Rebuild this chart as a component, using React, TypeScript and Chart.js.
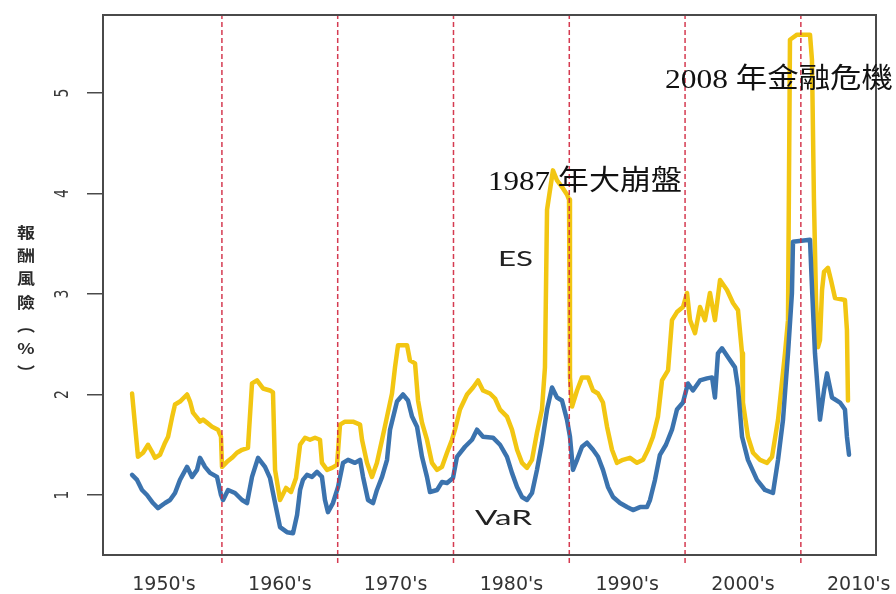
import React, { useEffect, useRef } from "react";
import { Chart, registerables } from "chart.js";

Chart.register(...registerables);

// ---- data ----
const decadeLabels = ["1950's", "1960's", "1970's", "1980's", "1990's", "2000's", "2010's"];
const decadeLabelYears = [1955, 1965, 1975, 1985, 1995, 2005, 2015];
const decadeBreakYears = [1960, 1970, 1980, 1990, 2000, 2010];
const yTickValues = [1, 2, 3, 4, 5];

const esYears = [
  1952.24, 1952.75, 1953.19, 1953.62, 1953.96, 1954.22, 1954.65, 1955.09, 1955.35, 1955.69,
  1955.95, 1956.38, 1956.99, 1957.25, 1957.5, 1957.85, 1958.11, 1958.37, 1958.71, 1959.15,
  1959.66, 1959.92, 1960.01, 1960.44, 1960.87, 1961.3, 1961.74, 1962.25, 1962.6, 1963.03,
  1963.55, 1964.15, 1964.41, 1964.59, 1965.02, 1965.54, 1965.97, 1966.4, 1966.75, 1967.18,
  1967.61, 1968.04, 1968.47, 1968.64, 1969.08, 1969.51, 1969.94, 1970.2, 1970.63, 1971.32,
  1971.93, 1972.1, 1972.53, 1972.96, 1973.39, 1973.83, 1974.26, 1974.69, 1974.95, 1975.21,
  1975.99, 1976.24, 1976.68, 1976.94, 1977.28, 1977.71, 1978.14, 1978.58, 1979.01, 1979.44,
  1979.87, 1980.13, 1980.56, 1981.17, 1981.69, 1982.12, 1982.55, 1983.15, 1983.59, 1984.02,
  1984.62, 1985.05, 1985.49, 1985.92, 1986.35, 1986.78, 1987.21, 1987.64, 1987.9, 1988.08,
  1988.59, 1988.94, 1989.46, 1989.8, 1989.98, 1990.06, 1990.24, 1990.67, 1991.1, 1991.62,
  1992.05, 1992.48, 1992.91, 1993.26, 1993.69, 1994.12, 1994.64, 1995.24, 1995.85, 1996.37,
  1996.8, 1997.23, 1997.66, 1998.01, 1998.53, 1998.87, 1999.3, 1999.82, 2000.17, 2000.43,
  2000.86, 2001.29, 2001.72, 2002.15, 2002.58, 2003.02, 2003.62, 2004.14, 2004.57, 2004.92,
  2005.0, 2005.43, 2005.87, 2006.47, 2007.08, 2007.51, 2008.03, 2008.63, 2008.89, 2009.06,
  2009.67, 2010.79, 2010.96, 2011.13, 2011.31, 2011.48, 2011.65, 2011.83, 2012.0, 2012.34,
  2012.6, 2012.95, 2013.81, 2013.98, 2014.07,
];
const esValues = [
  2.01, 1.38, 1.42, 1.5, 1.43, 1.37, 1.4, 1.52, 1.58, 1.77,
  1.9, 1.93, 2.0, 1.93, 1.82, 1.77, 1.73, 1.75, 1.72, 1.68,
  1.65, 1.58, 1.28, 1.33, 1.37, 1.42, 1.45, 1.47, 2.11, 2.14,
  2.06, 2.04, 2.02, 1.25, 0.95, 1.07, 1.03, 1.17, 1.5, 1.57,
  1.55, 1.57, 1.55, 1.32, 1.25, 1.27, 1.3, 1.7, 1.73, 1.73,
  1.7, 1.55, 1.32, 1.18, 1.32, 1.55, 1.78, 2.01, 2.27, 2.49,
  2.49, 2.34, 2.31, 1.94, 1.72, 1.55, 1.32, 1.25, 1.28, 1.42,
  1.55, 1.65, 1.85, 2.0, 2.07, 2.14, 2.04, 2.01, 1.96, 1.85,
  1.78, 1.65, 1.45, 1.32, 1.27, 1.35, 1.62, 1.85, 2.27, 3.84,
  4.23, 4.13, 4.05, 3.99, 3.94, 2.17, 1.88, 2.04, 2.17, 2.17,
  2.04, 2.01, 1.92, 1.68, 1.45, 1.32, 1.35, 1.37, 1.32, 1.35,
  1.45, 1.58, 1.78, 2.14, 2.24, 2.74, 2.82, 2.87, 3.01, 2.74,
  2.61, 2.87, 2.74, 3.01, 2.74, 3.14, 3.04, 2.91, 2.84, 2.41,
  1.92, 1.58, 1.42, 1.35, 1.32, 1.38, 1.75, 2.41, 2.74, 5.53,
  5.58, 5.58, 5.33, 3.94, 2.94, 2.47, 2.54, 3.04, 3.22, 3.26,
  3.14, 2.96, 2.94, 2.64, 1.94,
];

const varYears = [
  1952.24, 1952.67, 1953.1, 1953.53, 1954.05, 1954.48, 1955.09, 1955.52, 1955.95, 1956.38,
  1956.99, 1957.42, 1957.85, 1958.11, 1958.54, 1958.97, 1959.58, 1959.92, 1960.1, 1960.53,
  1961.13, 1961.74, 1962.17, 1962.6, 1963.12, 1963.72, 1964.15, 1964.59, 1965.02, 1965.62,
  1966.14, 1966.49, 1966.75, 1967.0, 1967.35, 1967.78, 1968.21, 1968.64, 1968.9, 1969.16,
  1969.59, 1970.03, 1970.46, 1970.89, 1971.49, 1971.93, 1972.19, 1972.62, 1973.05, 1973.39,
  1973.83, 1974.26, 1974.52, 1975.12, 1975.64, 1976.07, 1976.42, 1976.85, 1977.28, 1977.71,
  1977.97, 1978.58, 1979.01, 1979.44, 1979.96, 1980.3, 1980.99, 1981.6, 1982.03, 1982.55,
  1983.41, 1984.02, 1984.62, 1985.05, 1985.49, 1985.92, 1986.35, 1986.78, 1987.21, 1987.64,
  1988.08, 1988.51, 1988.94, 1989.37, 1989.8, 1990.06, 1990.32, 1990.67, 1991.1, 1991.53,
  1992.05, 1992.48, 1992.91, 1993.34, 1993.78, 1994.38, 1994.99, 1995.5, 1996.11, 1996.71,
  1996.97, 1997.4, 1997.83, 1998.35, 1998.87, 1999.3, 1999.82, 2000.25, 2000.68, 2001.29,
  2001.89, 2002.33, 2002.58, 2002.84, 2003.19, 2003.71, 2004.31, 2004.57, 2004.92, 2005.43,
  2006.21, 2006.9, 2007.59, 2008.03, 2008.46, 2008.89, 2009.23, 2009.32, 2010.79, 2010.96,
  2011.22, 2011.65, 2012.0, 2012.26, 2012.69, 2013.38, 2013.81, 2013.98, 2014.16,
];
const varValues = [
  1.2, 1.15, 1.05, 1.0, 0.92, 0.87, 0.92, 0.95, 1.02, 1.15,
  1.28, 1.18, 1.25, 1.37, 1.28, 1.22, 1.18, 1.0, 0.95, 1.05,
  1.02, 0.95, 0.92, 1.18, 1.37, 1.28, 1.17, 0.92, 0.68, 0.63,
  0.62, 0.8, 1.05, 1.15, 1.2, 1.18, 1.23, 1.18, 0.95, 0.83,
  0.92, 1.08, 1.32, 1.35, 1.32, 1.35, 1.18, 0.95, 0.92, 1.05,
  1.18, 1.35, 1.65, 1.93, 2.0, 1.94, 1.78, 1.68, 1.38, 1.18,
  1.03, 1.05, 1.13, 1.12, 1.17, 1.38, 1.48, 1.55, 1.65, 1.58,
  1.57, 1.5, 1.38, 1.22, 1.08, 0.98, 0.95, 1.02, 1.25, 1.52,
  1.85, 2.07, 1.97, 1.94, 1.75, 1.58, 1.25, 1.35, 1.48, 1.52,
  1.45, 1.38, 1.25, 1.08, 0.98, 0.92, 0.88, 0.85, 0.88, 0.88,
  0.95, 1.15, 1.4, 1.5, 1.65, 1.85, 1.92, 2.11, 2.04, 2.14,
  2.16, 2.17, 1.97, 2.41, 2.46, 2.37, 2.27, 2.07, 1.58, 1.35,
  1.15, 1.05, 1.02, 1.35, 1.75, 2.41, 3.01, 3.52, 3.54, 3.07,
  2.41, 1.75, 2.04, 2.21, 1.97, 1.92, 1.85, 1.58, 1.4,
];

// axis ranges
const X_MIN = 1949.73;
const X_MAX = 2016.49;
const Y_MIN = 0.403;
const Y_MAX = 5.776;

const yTitleChars = ["報", "酬", "風", "險", "︵", "%", "︶"];
const annotationCrash1987 = "1987 年大崩盤";
const annotationCrisis2008 = "2008 年金融危機";
const labelES = "ES";
const labelVaR = "VaR";

const ES_COLOR = "#F2C612";
const VAR_COLOR = "#3B73AE";
const BREAK_COLOR = "rgba(208, 38, 62, 0.9)";
const AXIS_COLOR = "#4a4a4a";

function fitText(
  ctx: CanvasRenderingContext2D,
  text: string,
  x: number,
  baseline: number,
  width: number,
  font: string,
  color: string
) {
  ctx.save();
  ctx.font = font;
  const w = ctx.measureText(text).width;
  ctx.translate(x, baseline);
  ctx.scale(width / w, 1);
  ctx.fillStyle = color;
  ctx.textAlign = "left";
  ctx.textBaseline = "alphabetic";
  ctx.fillText(text, 0, 0);
  ctx.restore();
}

const overlayPlugin = {
  id: "overlay",
  afterDatasetsDraw(chart: any) {
    const { ctx, chartArea: ca } = chart;
    ctx.save();
    ctx.strokeStyle = AXIS_COLOR;
    ctx.lineWidth = 2;
    ctx.strokeRect(ca.left, ca.top, ca.right - ca.left, ca.bottom - ca.top);
    ctx.restore();
  },
  afterDraw(chart: any) {
    const { ctx } = chart;
    const yScale = chart.scales.y;

    // rotated y tick labels
    ctx.save();
    ctx.fillStyle = "#3a3a3a";
    ctx.font = '14px "DejaVu Sans"';
    ctx.textAlign = "center";
    ctx.textBaseline = "middle";
    for (const t of yScale.ticks) {
      const py = yScale.getPixelForValue(t.value);
      ctx.save();
      ctx.translate(63, py);
      ctx.scale(1.4, 1);
      ctx.rotate(-Math.PI / 2);
      ctx.fillText(String(t.value), 0, 0);
      ctx.restore();
    }
    ctx.restore();

    // stacked vertical y-axis title
    ctx.save();
    ctx.fillStyle = "#2a2a2a";
    ctx.font = 'bold 15px "Noto Sans CJK TC"';
    ctx.textAlign = "center";
    ctx.textBaseline = "middle";
    yTitleChars.forEach((ch, i) => {
      ctx.save();
      ctx.translate(26, 232 + i * 23.3);
      ctx.scale(1.2, 1);
      ctx.fillText(ch, 0, 0);
      ctx.restore();
    });
    ctx.restore();

    // annotations
    const serif = '28px "Liberation Serif", "Noto Sans CJK TC"';
    fitText(ctx, annotationCrisis2008, 665, 88, 228, serif, "#111");
    fitText(ctx, annotationCrash1987, 488, 190, 194, serif, "#111");
    const sans = '21px "Lato", "Open Sans"';
    fitText(ctx, labelES, 498, 266, 35, sans, "#222");
    fitText(ctx, labelVaR, 475, 525, 57, sans, "#222");
  },
};

export default function App() {
  const canvasRef = useRef<HTMLCanvasElement | null>(null);

  useEffect(() => {
    const canvas = canvasRef.current;
    if (!canvas) return;

    const esPoints = esYears.map((x, i) => ({ x, y: esValues[i] }));
    const varPoints = varYears.map((x, i) => ({ x, y: varValues[i] }));

    const breakSets = decadeBreakYears.map((yr) => ({
      label: "break-" + yr,
      data: [
        { x: yr, y: Y_MIN - 0.08 },
        { x: yr, y: Y_MAX },
      ],
      borderColor: BREAK_COLOR,
      borderWidth: 1.5,
      borderDash: [5, 3],
      pointRadius: 0,
      clip: false as any,
      order: 0,
    }));

    const chart = new Chart(canvas, {
      type: "line",
      data: {
        datasets: [
          ...breakSets,
          {
            label: "VaR",
            data: varPoints,
            borderColor: VAR_COLOR,
            borderWidth: 4.5,
            pointRadius: 0,
            tension: 0,
            borderJoinStyle: "round",
            borderCapStyle: "round",
            order: 1,
          },
          {
            label: "ES",
            data: esPoints,
            borderColor: ES_COLOR,
            borderWidth: 4.5,
            pointRadius: 0,
            tension: 0,
            borderJoinStyle: "round",
            borderCapStyle: "round",
            order: 2,
          },
        ] as any,
      },
      options: {
        responsive: false,
        animation: false,
        devicePixelRatio: 1,
        layout: { padding: { top: 15, right: 20, left: 0, bottom: 0 } },
        plugins: {
          legend: { display: false },
          tooltip: { enabled: false },
        },
        scales: {
          x: {
            type: "linear",
            position: "bottom",
            min: X_MIN,
            max: X_MAX,
            afterBuildTicks: (scale: any) => {
              scale.ticks = decadeLabelYears.map((v) => ({ value: v }));
            },
            afterFit: (scale: any) => {
              scale.height = 39;
              scale.paddingLeft = 0;
              scale.paddingRight = 0;
            },
            grid: { display: false, drawTicks: false },
            border: { display: false },
            ticks: {
              autoSkip: false,
              maxRotation: 0,
              minRotation: 0,
              padding: 19,
              color: "#333",
              font: { family: '"DejaVu Sans"', size: 19 },
              callback: (value: any) => {
                const idx = decadeLabelYears.indexOf(Number(value));
                return idx >= 0 ? decadeLabels[idx] : "";
              },
            },
          },
          y: {
            type: "linear",
            min: Y_MIN,
            max: Y_MAX,
            afterBuildTicks: (scale: any) => {
              scale.ticks = yTickValues.map((v) => ({ value: v }));
            },
            afterFit: (scale: any) => {
              scale.width = 103;
              scale.paddingTop = 0;
              scale.paddingBottom = 0;
            },
            grid: {
              display: true,
              drawOnChartArea: false,
              drawTicks: true,
              tickLength: 16,
              color: AXIS_COLOR,
              lineWidth: 1.5,
            },
            border: { display: false },
            ticks: { display: false },
          },
        },
      },
      plugins: [overlayPlugin],
    });

    return () => chart.destroy();
  }, []);

  return (
    <div style={{ position: "fixed", left: 0, top: 0, width: 896, height: 594, background: "#fff" }}>
      <canvas ref={canvasRef} width={896} height={594} style={{ display: "block" }} />
    </div>
  );
}
